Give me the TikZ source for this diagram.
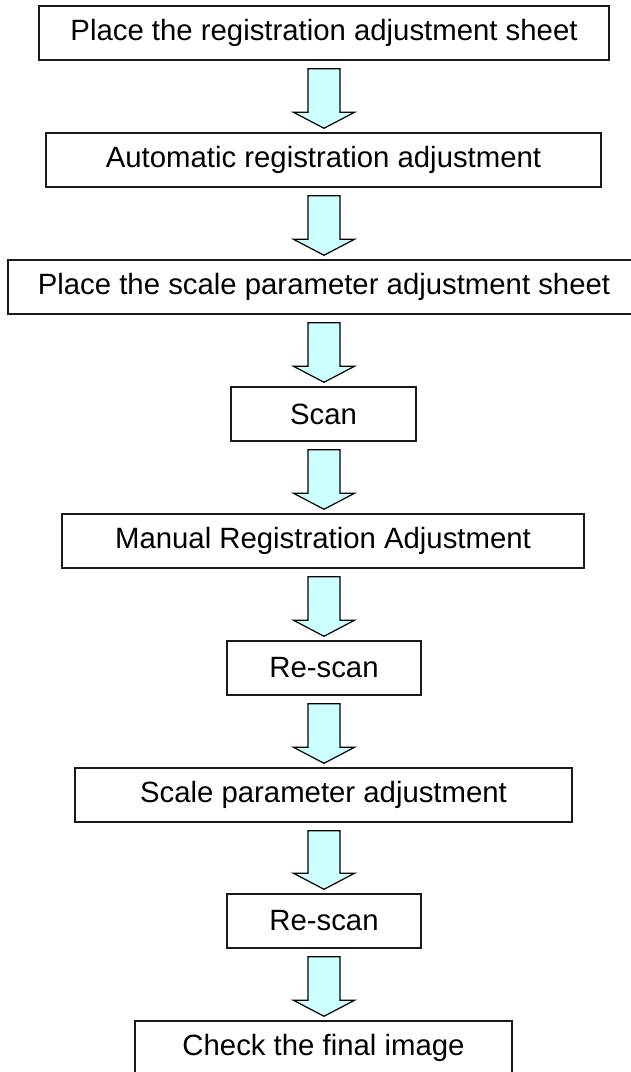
\documentclass[tikz,border=0pt]{standalone}
\usepackage{fontspec}
\setmainfont{Liberation Sans}
\usetikzlibrary{calc}

\definecolor{arrowcyan}{HTML}{CCFFFF}
\definecolor{boxline}{HTML}{1A1A1A}

\tikzset{
	stepbox/.style={draw=boxline, line width=1.1pt, fill=white, inner sep=0pt,
		minimum height=54*0.75pt, font=\fontsize{22}{26}\selectfont},
	blockarrow/.style={draw=black, line width=0.9pt, fill=arrowcyan, line join=miter}
}

\begin{document}
\begin{tikzpicture}[x=0.75pt, y=-0.75pt]

		% === page bounds (px) ===
		\useasboundingbox (0,0) rectangle (631,1072);
		\clip (0,0) rectangle (631,1072);

		% === Steps: name / centre x / centre y / width / text ===
		\foreach \name/\cx/\cy/\w/\txt in {
			place/324/33/570/{Place the registration adjustment sheet},
			autoreg/323.5/160/555/{Automatic registration adjustment},
			scalesheet/324/287/632/{Place the scale parameter adjustment sheet},
			scan/323.5/414/185/{Scan},
			manreg/323/541/522/{Manual Registration Adjustment},
			rescanA/324/668/194/{Re-scan},
			scalepar/323.5/795/497/{Scale parameter adjustment},
			rescanB/324/921/194/{Re-scan},
			check/323.5/1048/377/{Check the final image}} {
			\node[stepbox, minimum width=\w*0.75pt] (\name) at (\cx,\cy) {\txt};
		}

		% === Block arrows between steps ===
		\foreach \a/\b in {place/autoreg, autoreg/scalesheet, scalesheet/scan, scan/manreg,
			manreg/rescanA, rescanA/scalepar, scalepar/rescanB, rescanB/check} {
			\draw[blockarrow] let \p1=(\a.south), \p2=(\b.north) in
				(324*0.75pt-12pt,\y1-6pt) -- (324*0.75pt+12pt,\y1-6pt)
				-- (324*0.75pt+12pt,\y2+15pt) -- (324*0.75pt+22.9pt,\y2+15pt)
				-- (324*0.75pt,\y2+3pt)
				-- (324*0.75pt-22.9pt,\y2+15pt) -- (324*0.75pt-12pt,\y2+15pt) -- cycle;
		}
	\end{tikzpicture}
\end{document}
